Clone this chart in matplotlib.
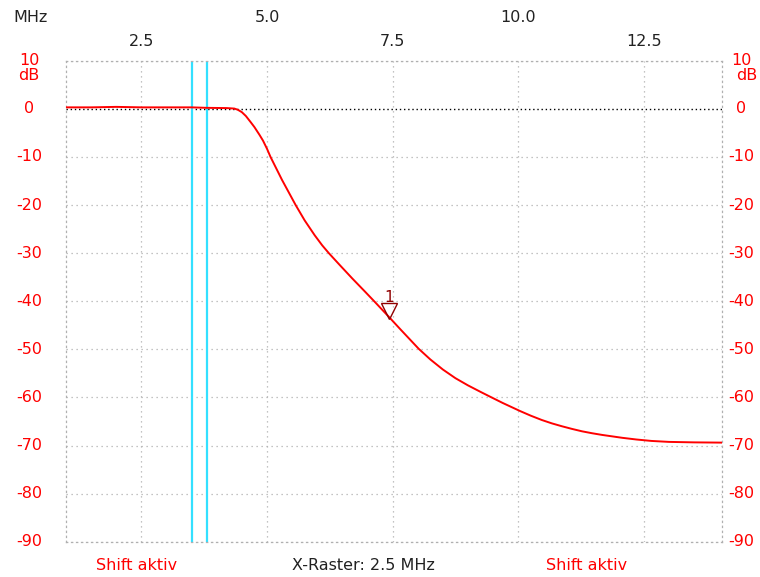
import matplotlib
matplotlib.use("Agg")
import matplotlib.pyplot as plt
import matplotlib.transforms as mtransforms

# Frequenzgang (MHz / dB)
freq = [1.0, 1.5, 2.0, 2.5, 3.0, 3.5, 3.8, 4.2, 4.35, 4.42, 4.5, 4.58, 4.67,
        4.75, 4.85, 4.92, 5.0, 5.07, 5.3, 5.57, 5.75, 5.95, 6.1, 6.23, 6.45,
        6.7, 6.95, 7.16, 7.43, 7.66, 8.02, 8.25, 8.5, 8.75, 9.0, 9.25, 9.45,
        9.69, 10.04, 10.25, 10.47, 10.67, 10.87, 11.07, 11.27, 11.47, 11.67,
        11.87, 12.07, 12.35, 12.65, 13.0, 13.5, 14.05]
pegel = [0.3, 0.3, 0.4, 0.3, 0.3, 0.3, 0.2, 0.15, 0.05, -0.2, -0.7, -1.5, -2.7,
         -3.8, -5.4, -6.6, -8.3, -10.0, -14.8, -20.0, -23.2, -26.3, -28.4, -30.0,
         -32.5, -35.3, -38.0, -40.3, -43.3, -45.9, -49.9, -52.1, -54.2, -56.0,
         -57.5, -58.85, -59.9, -61.15, -62.85, -63.8, -64.7, -65.4, -66.0, -66.55,
         -67.05, -67.45, -67.8, -68.1, -68.4, -68.75, -69.05, -69.25, -69.35,
         -69.4]

x_ticks = [2.5, 5.0, 7.5, 10.0, 12.5]
y_ticks = [10, 0, -10, -20, -30, -40, -50, -60, -70, -80, -90]
cursor_freq = [3.5, 3.8]
marker_freq = 7.43
marker_db = -43.3

plt.rcParams['font.family'] = ['DejaVu Sans']
rot = '#ff0000'

fig = plt.figure(figsize=(7.6, 5.77), dpi=100)
ax = fig.add_axes([66 / 760, 1 - 541.7 / 577, (721.7 - 66) / 760, (541.7 - 60.7) / 577])
ax.set_xlim(1.0, 14.05)
ax.set_ylim(-90, 10)

# Raster
for xv in x_ticks:
    ax.axvline(xv, color='#b0b0b0', lw=0.9, ls=(0, (1, 3)), zorder=1)
for yv in y_ticks:
    if yv == 0:
        ax.axhline(yv, color='black', lw=1.0, ls=(0, (1, 2)), zorder=1)
    else:
        ax.axhline(yv, color='#b0b0b0', lw=0.9, ls=(0, (1, 3)), zorder=1)
for s in ax.spines.values():
    s.set_color('#b0b0b0')
    s.set_linestyle((0, (1, 3)))
    s.set_linewidth(0.9)

ax.set_xticks([])
ax.set_yticks([])

# Cursorlinien
for cf in cursor_freq:
    ax.axvline(cf, color='#33e0ff', lw=1.6, zorder=2)

ax.plot(freq, pegel, color=rot, lw=1.4, zorder=3)

# Marker 1
off = mtransforms.offset_copy(ax.transData, fig=fig, x=0, y=6, units='dots')
ax.plot([marker_freq], [marker_db], marker='v', ms=11, mfc='none',
        mec='#900000', mew=1.0, transform=off, zorder=4)
off2 = mtransforms.offset_copy(ax.transData, fig=fig, x=0, y=12, units='dots')
ax.text(marker_freq, marker_db, '1', color='#900000', fontsize=11,
        ha='center', va='bottom', transform=off2, zorder=4)

# Achsenbeschriftung links/rechts
fs = 11.5
for yv in y_ticks:
    ypix = 541.7 - (yv + 90) * 4.81
    fig.text(29 / 760, 1 - ypix / 577, str(yv), color=rot, fontsize=fs,
             ha='center', va='center')
    fig.text(741 / 760, 1 - ypix / 577, str(yv), color=rot, fontsize=fs,
             ha='center', va='center')
fig.text(29 / 760, 1 - 75 / 577, 'dB', color=rot, fontsize=fs, ha='center', va='center')
fig.text(747 / 760, 1 - 76 / 577, 'dB', color=rot, fontsize=fs, ha='center', va='center')

# Frequenzachse oben
fig.text(31 / 760, 1 - 18 / 577, 'MHz', color='#222222', fontsize=fs, ha='center', va='center')
for i, xv in enumerate(x_ticks):
    xpix = 66 + (xv - 1.0) * (721.7 - 66) / 13.05
    ypos = 42 if i % 2 == 0 else 18
    fig.text(xpix / 760, 1 - ypos / 577, f'{xv:.1f}', color='#222222', fontsize=fs,
             ha='center', va='center')

# Statuszeile unten
fig.text(137 / 760, 1 - 565 / 577, 'Shift aktiv', color=rot, fontsize=fs, ha='center', va='center')
fig.text(363 / 760, 1 - 565 / 577, 'X-Raster: 2.5 MHz', color='#222222', fontsize=fs,
         ha='center', va='center')
fig.text(587 / 760, 1 - 565 / 577, 'Shift aktiv', color=rot, fontsize=fs, ha='center', va='center')

fig.savefig('out.png', dpi=100)
